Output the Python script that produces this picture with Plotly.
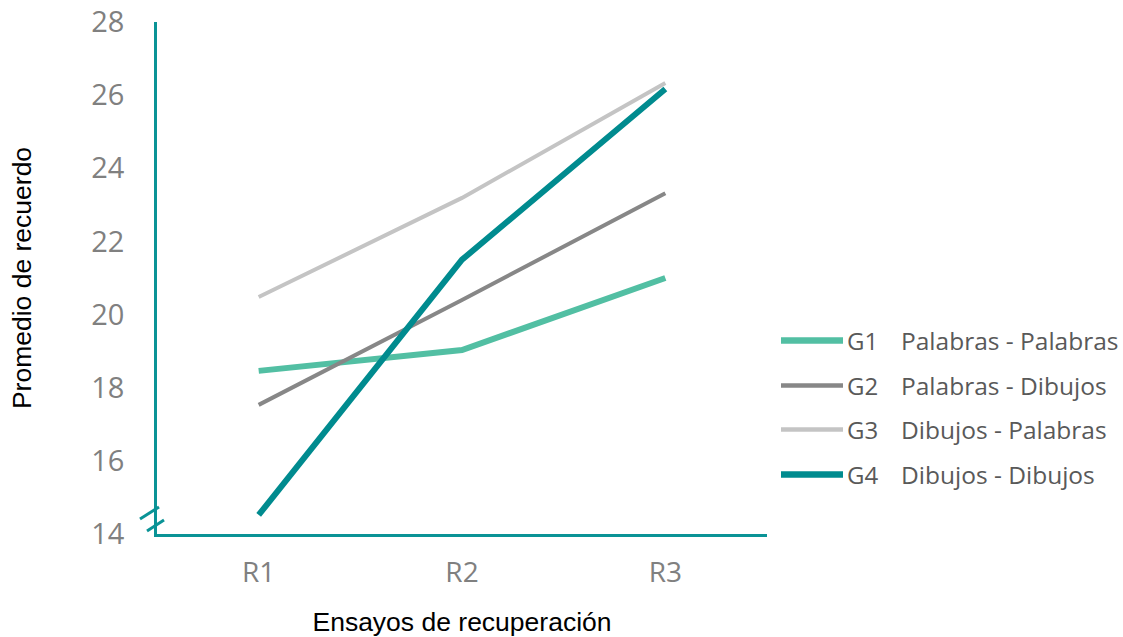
import plotly.graph_objects as go

categories = ["R1", "R2", "R3"]
groups = ["G1", "G2", "G3", "G4"]
names = ["Palabras - Palabras", "Palabras - Dibujos", "Dibujos - Palabras", "Dibujos - Dibujos"]
g1 = [18.46, 19.03, 21.0]
g2 = [17.53, 20.4, 23.32]
g3 = [20.48, 23.19, 26.33]
g4 = [14.52, 21.5, 26.17]
series = [g1, g2, g3, g4]
colors = ["#52BFA3", "#878787", "#C4C4C4", "#008B8F"]
widths = [6, 4, 4, 6]
y_ticks = [14, 16, 18, 20, 22, 24, 26, 28]

AXIS = "#0A9396"
L, R, T, B = 157, 356, 22, 103
W, H = 1123, 637
pw, ph = W - L - R, H - T - B

def px(x):
    return (x - L) / pw

def py(y):
    return (H - B - y) / ph

fig = go.Figure()
for vals, c, w, g in zip(series, colors, widths, groups):
    fig.add_trace(go.Scatter(x=[0, 1, 2], y=vals, mode="lines", name=g,
                             line=dict(color=c, width=w), showlegend=False))

# custom legend
legend_y = [340.5, 385.5, 429.5, 474.5]
for g, n, c, w, ly in zip(groups, names, colors, widths, legend_y):
    fig.add_shape(type="line", xref="paper", yref="paper",
                  x0=px(781), x1=px(843), y0=py(ly), y1=py(ly),
                  line=dict(color=c, width=w + 0.5))
    fig.add_annotation(xref="paper", yref="paper", x=px(845), y=py(ly), text=g,
                       showarrow=False, xanchor="left", yanchor="middle",
                       font=dict(family="Open Sans", size=24, color="#595959"))
    fig.add_annotation(xref="paper", yref="paper", x=px(899), y=py(ly), text=n,
                       showarrow=False, xanchor="left", yanchor="middle",
                       font=dict(family="Open Sans", size=24.5, color="#595959"))

# axis break marks
for (x0, y0, x1, y1) in [(140, 519, 159, 507), (147, 531, 164, 520)]:
    fig.add_shape(type="line", xref="paper", yref="paper",
                  x0=px(x0), y0=py(y0), x1=px(x1), y1=py(y1),
                  line=dict(color=AXIS, width=3))

fig.update_layout(
    width=W, height=H,
    margin=dict(l=L, r=R, t=T, b=B),
    paper_bgcolor="white", plot_bgcolor="white",
    xaxis=dict(
        range=[-0.5, 2.5], tickmode="array", tickvals=[0, 1, 2], ticktext=categories,
        showgrid=False, zeroline=False, showline=True, linecolor=AXIS, linewidth=2.5,
        ticks="", ticklabelstandoff=12, automargin=False,
        tickfont=dict(family="Open Sans", size=28, color="#808080"),
        title=dict(text="Ensayos de recuperación", standoff=25,
                   font=dict(family="Liberation Sans, Arial", size=26.5, color="#000000")),
    ),
    yaxis=dict(
        range=[14, 28], tickmode="array", tickvals=y_ticks,
        ticktext=[str(v) for v in y_ticks],
        showgrid=False, zeroline=False, showline=True, linecolor=AXIS, linewidth=2.5,
        ticks="", ticklabelstandoff=24, automargin=False,
        tickfont=dict(family="Open Sans", size=29, color="#808080"),
        title=dict(text="Promedio de recuerdo", standoff=53,
                   font=dict(family="Liberation Sans, Arial", size=26.5, color="#000000")),
    ),
)

fig.write_html("out.html")
